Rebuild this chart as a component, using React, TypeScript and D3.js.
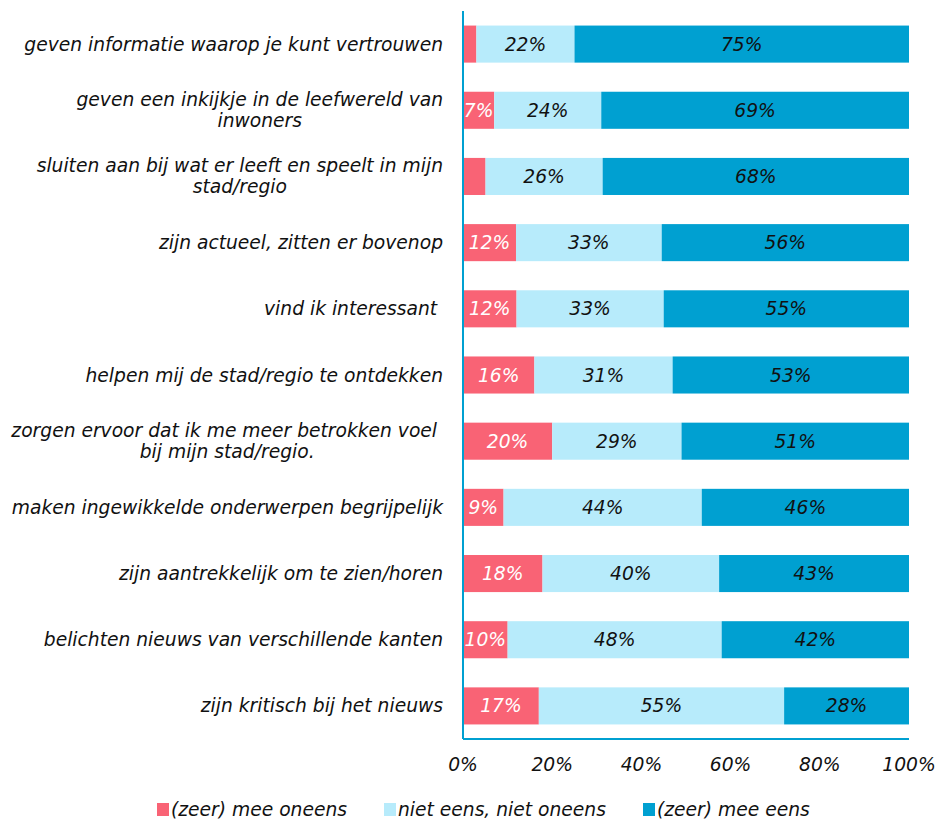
import React, { useEffect, useRef } from 'react';
import * as d3 from 'd3';

const categories = [
  'geven informatie waarop je kunt vertrouwen',
  'geven een inkijkje in de leefwereld van|inwoners',
  'sluiten aan bij wat er leeft en speelt in mijn|stad/regio',
  'zijn actueel, zitten er bovenop',
  'vind ik interessant ',
  'helpen mij de stad/regio te ontdekken',
  'zorgen ervoor dat ik me meer betrokken voel |bij mijn stad/regio.',
  'maken ingewikkelde onderwerpen begrijpelijk',
  'zijn aantrekkelijk om te zien/horen',
  'belichten nieuws van verschillende kanten',
  'zijn kritisch bij het nieuws'
];

const oneens = [3, 7, 5, 12, 12, 16, 20, 9, 18, 10, 17];
const neutraal = [22, 24, 26, 33, 33, 31, 29, 44, 40, 48, 55];
const eens = [75, 69, 68, 56, 55, 53, 51, 46, 43, 42, 28];

const seriesNames = ['(zeer) mee oneens', 'niet eens, niet oneens', '(zeer) mee eens'];
const seriesColors = ['#f96375', '#b7ebfb', '#00a0d1'];
const tickValues = [0, 0.2, 0.4, 0.6, 0.8, 1];

const FONT = '"DejaVu Sans", Verdana, sans-serif';
const FS = 18.7;

const App = () => {
  const ref = useRef<SVGSVGElement>(null);

  useEffect(() => {
    const svg = d3.select(ref.current);
    svg.selectAll('*').remove();

    const left = 463;
    const right = 909;
    const top = 11;
    const bottom = 739;

    const rows = categories.map((c, i) => ({
      cat: c,
      a: oneens[i],
      b: neutraal[i],
      c: eens[i]
    }));

    const keys = ['a', 'b', 'c'];
    const stack = d3.stack<any>().keys(keys).offset(d3.stackOffsetExpand);
    const layers = stack(rows);

    const x = d3.scaleLinear().domain([0, 1]).range([left, right]);
    const y = d3
      .scaleBand()
      .domain(categories)
      .range([top, bottom])
      .paddingInner(0.44)
      .paddingOuter(0.22);

    const g = svg.append('g').style('font-family', FONT).style('font-style', 'italic');

    layers.forEach((layer, li) => {
      const grp = g.append('g');
      grp
        .selectAll('rect')
        .data(layer)
        .enter()
        .append('rect')
        .attr('x', d => x(d[0]))
        .attr('y', d => y(d.data.cat)!)
        .attr('width', d => x(d[1]) - x(d[0]))
        .attr('height', y.bandwidth())
        .attr('fill', seriesColors[li]);

      grp
        .selectAll('text')
        .data(layer.filter(d => d.data[keys[li]] >= 7))
        .enter()
        .append('text')
        .attr('x', d => (x(d[0]) + x(d[1])) / 2)
        .attr('y', d => y(d.data.cat)! + y.bandwidth() / 2)
        .attr('dy', '0.35em')
        .attr('text-anchor', 'middle')
        .attr('font-size', FS)
        .attr('fill', li === 0 ? '#ffffff' : '#111111')
        .text(d => `${d.data[keys[li]]}%`);
    });

    // axis lines
    g.append('line')
      .attr('x1', left)
      .attr('x2', left)
      .attr('y1', top)
      .attr('y2', bottom)
      .attr('stroke', '#00a0d1')
      .attr('stroke-width', 2);
    g.append('line')
      .attr('x1', left)
      .attr('x2', right)
      .attr('y1', bottom)
      .attr('y2', bottom)
      .attr('stroke', '#00a0d1')
      .attr('stroke-width', 2);

    // x tick labels
    g.selectAll('.tick')
      .data(tickValues)
      .enter()
      .append('text')
      .attr('x', d => x(d))
      .attr('y', 771)
      .attr('text-anchor', 'middle')
      .attr('font-size', FS)
      .attr('fill', '#111111')
      .text(d => d3.format('.0%')(d));

    // category labels, right edge at 443, multi-line blocks centred
    const labelRight = 443;
    const lineH = 21;
    categories.forEach(cat => {
      const lines = cat.split('|');
      const cy = y(cat)! + y.bandwidth() / 2;
      const t = g
        .append('text')
        .attr('font-size', FS)
        .attr('fill', '#111111')
        .attr('text-anchor', 'middle')
        .style('white-space', 'pre');
      const spans = lines.map((ln, i) =>
        t
          .append('tspan')
          .attr('y', cy + (i - (lines.length - 1) / 2) * lineH)
          .attr('dy', '0.35em')
          .text(ln)
      );
      const maxW = d3.max(spans, s => (s.node() as SVGTSpanElement).getComputedTextLength()) || 0;
      spans.forEach(s => s.attr('x', labelRight - maxW / 2));
    });

    // legend
    const legendX = [157, 384, 643];
    seriesNames.forEach((name, i) => {
      const lg = g.append('g').attr('transform', `translate(${legendX[i]}, 803)`);
      lg.append('rect').attr('width', 12).attr('height', 13).attr('fill', seriesColors[i]);
      lg.append('text')
        .attr('x', 14)
        .attr('y', 13)
        .attr('font-size', FS)
        .attr('fill', '#111111')
        .text(name);
    });
  }, []);

  return (
    <svg
      ref={ref}
      width={952}
      height={820}
      style={{ position: 'absolute', left: 0, top: 0, background: '#fff' }}
    />
  );
};

export default App;
